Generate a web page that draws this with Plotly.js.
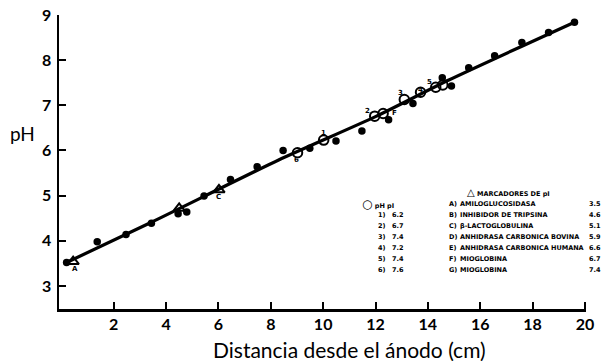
<!DOCTYPE html>
<html>
<head>
<meta charset="utf-8">
<script src="https://cdn.plot.ly/plotly-3.0.1.min.js"></script>
<style>html,body{margin:0;padding:0;background:#fff;}#chart{width:604px;height:361px;}</style>
</head>
<body>
<div id="chart"></div>
<script>
// ---- data ----
const dataX = [0.2, 1.37, 2.47, 3.44, 4.46, 4.79, 5.45, 6.46, 7.48, 8.47, 9.49, 10.49, 11.48, 12.5, 13.43, 14.55, 14.9, 15.56, 16.55, 17.59, 18.61, 19.6];
const dataPH = [3.52, 3.98, 4.14, 4.39, 4.6, 4.64, 4.99, 5.36, 5.64, 6.0, 6.05, 6.21, 6.43, 6.68, 7.04, 7.61, 7.43, 7.83, 8.10, 8.39, 8.61, 8.84];

const circX = [9.02, 10.02, 11.97, 12.29, 13.1, 13.72, 14.3, 14.57];
const circPH = [5.95, 6.23, 6.76, 6.82, 7.13, 7.29, 7.40, 7.45];

const triX = [0.45, 4.5, 6.02];
const triPH = [3.54, 4.72, 5.13];

const fitX = [0.2, 3.4, 8.3, 12.0, 14.8, 19.6];
const fitPH = [3.52, 4.40, 5.79, 6.75, 7.56, 8.84];

const markLabels = ["A", "C", "1", "6", "2", "F", "3", "4", "5"];
const markLabelX = [0.52, 6.02, 10.03, 9.0, 11.71, 12.74, 12.97, 13.73, 14.08];
const markLabelPH = [3.38, 4.97, 6.39, 5.79, 6.87, 6.83, 7.27, 7.34, 7.52];

const xTicks = [2, 4, 6, 8, 10, 12, 14, 16, 18, 20];
const yTicks = [3, 4, 5, 6, 7, 8, 9];

const circLegendNums = ["1)", "2)", "3)", "4)", "5)", "6)"];
const circLegendPI = ["6.2", "6.7", "7.4", "7.2", "7.4", "7.6"];
const triLegendLetters = ["A)", "B)", "C)", "D)", "E)", "F)", "G)"];
const triLegendNames = ["AMILOGLUCOSIDASA", "INHIBIDOR DE TRIPSINA", "β-LACTOGLOBULINA", "ANHIDRASA CARBONICA BOVINA", "ANHIDRASA CARBONICA HUMANA", "MIOGLOBINA", "MIOGLOBINA"];
const triLegendPI = ["3.5", "4.6", "5.1", "5.9", "6.6", "6.7", "7.4"];

// ---- layout helpers ----
const L = 59, T = 15, W = 527, H = 294;
function px(x) { return (x - L) / W; }
function py(y) { return (T + H - y) / H; }

const traces = [
  {x: fitX, y: fitPH, mode: 'lines', line: {color: '#000', width: 3.2, shape: 'spline', smoothing: 0.6}, hoverinfo: 'skip'},
  {x: dataX, y: dataPH, mode: 'markers', marker: {symbol: 'circle', size: 7.5, color: '#000'}},
  {x: circX, y: circPH, mode: 'markers', marker: {symbol: 'circle-open', size: 9.5, color: '#000', line: {width: 2, color: '#000'}}},
  {x: triX, y: triPH, mode: 'markers', marker: {symbol: 'triangle-up-open', size: 10, color: '#000', line: {width: 2, color: '#000'}}}
];

const legFont = {family: 'DejaVu Sans, sans-serif', size: 6.5, color: '#000', weight: 700};
const ann = [];
for (let i = 0; i < markLabels.length; i++) {
  ann.push({x: markLabelX[i], y: markLabelPH[i], xref: 'x', yref: 'y', text: markLabels[i], showarrow: false,
    font: {family: 'DejaVu Sans, sans-serif', size: 7, color: '#000', weight: 700}});
}
// legend block (drawn as text)
ann.push({x: px(465), y: py(192), xref: 'paper', yref: 'paper', xanchor: 'left', yanchor: 'middle', showarrow: false,
  text: '<span style="font-size:10px">△</span> MARCADORES DE pI', font: legFont});
ann.push({x: px(360), y: py(204), xref: 'paper', yref: 'paper', xanchor: 'left', yanchor: 'middle', showarrow: false,
  text: '<span style="font-size:12px">○</span> pH pI', font: legFont});
for (let i = 0; i < circLegendNums.length; i++) {
  const yy = 215 + i * 11;
  ann.push({x: px(376), y: py(yy), xref: 'paper', yref: 'paper', xanchor: 'left', yanchor: 'middle', showarrow: false, text: circLegendNums[i], font: legFont});
  ann.push({x: px(390), y: py(yy), xref: 'paper', yref: 'paper', xanchor: 'left', yanchor: 'middle', showarrow: false, text: circLegendPI[i], font: legFont});
}
for (let i = 0; i < triLegendLetters.length; i++) {
  const yy = 204 + i * 11;
  ann.push({x: px(447), y: py(yy), xref: 'paper', yref: 'paper', xanchor: 'left', yanchor: 'middle', showarrow: false, text: triLegendLetters[i], font: legFont});
  ann.push({x: px(458), y: py(yy), xref: 'paper', yref: 'paper', xanchor: 'left', yanchor: 'middle', showarrow: false, text: triLegendNames[i], font: legFont});
  ann.push({x: px(587), y: py(yy), xref: 'paper', yref: 'paper', xanchor: 'left', yanchor: 'middle', showarrow: false, text: triLegendPI[i], font: legFont});
}
// horizontal "pH" axis label and x-axis title placed as in the reference
ann.push({x: px(22), y: py(133), xref: 'paper', yref: 'paper', xanchor: 'center', yanchor: 'middle', showarrow: false,
  text: 'pH', font: {family: 'Lato, Open Sans, sans-serif', size: 19, color: '#000'}});
ann.push({x: px(349), y: py(349), xref: 'paper', yref: 'paper', xanchor: 'center', yanchor: 'middle', showarrow: false,
  text: 'Distancia desde el ánodo (cm)', font: {family: 'Lato, Open Sans, sans-serif', size: 21, color: '#000'}});

const axisFont = {family: 'Lato, Open Sans, sans-serif', size: 16, color: '#000', weight: 700};
const layout = {
  width: 604, height: 361,
  margin: {l: L, r: 604 - L - W, t: T, b: 361 - T - H},
  paper_bgcolor: '#fff', plot_bgcolor: '#fff',
  showlegend: false,
  xaxis: {
    range: [-0.09, 20.04], tickvals: xTicks, ticktext: xTicks.map(String),
    ticks: 'inside', ticklen: 7, tickwidth: 2, tickcolor: '#000',
    showline: true, linecolor: '#000', linewidth: 2.5, showgrid: false, zeroline: false,
    tickfont: axisFont, ticklabelstandoff: -1
  },
  yaxis: {
    range: [2.49, 9.0], tickvals: yTicks, ticktext: yTicks.map(String),
    ticks: 'inside', ticklen: 7, tickwidth: 2, tickcolor: '#000',
    showline: true, linecolor: '#000', linewidth: 2.5, showgrid: false, zeroline: false,
    tickfont: axisFont, ticklabelstandoff: 2
  },
  annotations: ann
};
Plotly.newPlot('chart', traces, layout, {staticPlot: true, displayModeBar: false});
</script>
</body>
</html>
